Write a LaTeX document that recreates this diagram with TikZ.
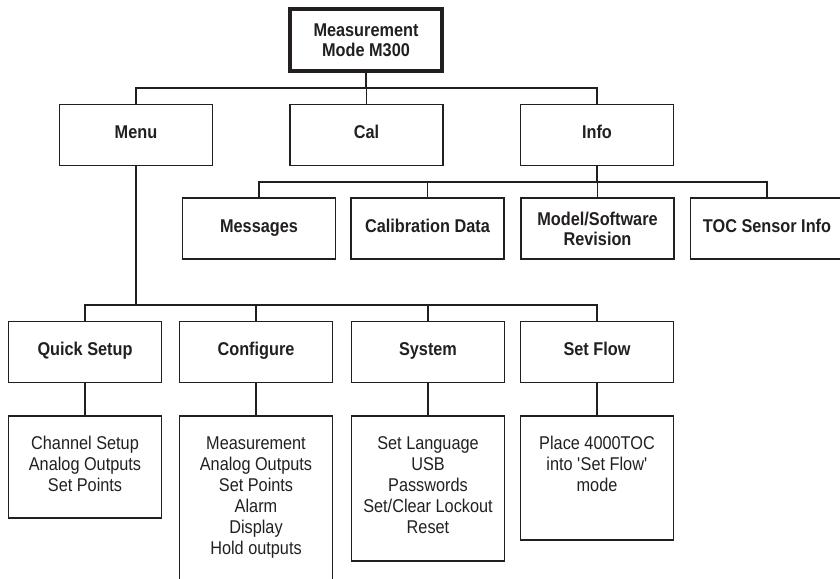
\documentclass[tikz,border=0pt]{standalone}
\usepackage{fontspec}
\setmainfont[FakeStretch=0.88]{Liberation Sans}
\definecolor{ink}{HTML}{231F20}
\begin{document}
\begin{tikzpicture}[x=1pt,y=-1pt,
  hbox/.style={draw=ink, line width=1.8pt, minimum width=153pt, minimum height=61pt,
    inner sep=0pt, font=\bfseries\fontsize{18.5}{20}\selectfont, text=ink, align=center},
  one/.style={text height=13.2pt, text depth=6pt},
  topbox/.style={hbox, line width=4pt, minimum width=152pt, minimum height=62pt},
  listbox/.style={draw=ink, line width=1.8pt, minimum width=153pt, inner sep=0pt, anchor=north},
  listtxt/.style={font=\fontsize{18.5}{21}\selectfont, align=center, anchor=north, inner sep=0pt, text=ink},
  conn/.style={draw=ink, line width=1.6pt}]
\useasboundingbox (0,0) rectangle (840,578);
\clip (0,0) rectangle (840,578);

% top
\node[topbox] (top) at (366,40) {Measurement\\Mode M300};

% row 1
\node[hbox,one] (menu) at (136,135) {Menu};
\node[hbox,one] (cal) at (366.5,135) {Cal};
\node[hbox,one] (info) at (597,135) {Info};

% row 2
\node[hbox,one] (msg) at (259,228.5) {Messages};
\node[hbox,one] (cdata) at (427.5,228.5) {Calibration Data};
\node[hbox] (model) at (597.5,228.5) {Model/Software\\Revision};
\node[hbox,one] (toc) at (767,228.5) {TOC Sensor Info};

% row 3
\node[hbox,one] (qs) at (85,352) {Quick Setup};
\node[hbox,one] (conf) at (256,352) {Configure};
\node[hbox,one] (sys) at (428,352) {System};
\node[hbox,one] (flow) at (597,352) {Set Flow};

% row 4 boxes
\node[listbox, minimum height=102pt] (qsL) at (85,415) {};
\node[listbox, minimum height=200pt] (confL) at (256,415) {};
\node[listbox, minimum height=145pt] (sysL) at (428,415) {};
\node[listbox, minimum height=124pt] (flowL) at (597,415) {};

% row 4 texts
\node[listtxt] (qsT) at ([yshift=-20pt]qsL.north) {\strut Channel Setup\\Analog Outputs\\Set Points};
\node[listtxt] (confT) at ([yshift=-20pt]confL.north) {\strut Measurement\\Analog Outputs\\Set Points\\Alarm\\Display\\Hold outputs};
\node[listtxt] (sysT) at ([yshift=-20pt]sysL.north) {\strut Set Language\\USB\\Passwords\\Set/Clear Lockout\\Reset};
\node[listtxt] (flowT) at ([yshift=-20pt]flowL.north) {\strut Place 4000TOC\\into \textquotesingle Set Flow\textquotesingle\\mode};

% connectors: top level
\coordinate (b1) at (366,88);
\draw[conn] (top.south) -- (b1);
\draw[conn] (menu.north) |- (b1);
\draw[conn] (info.north) |- (b1);
\draw[conn] (cal.north) -- (cal.north |- b1);

% info bus
\coordinate (b2) at (597,182);
\draw[conn] (info.south) -- (b2);
\draw[conn] (msg.north) |- (b2);
\draw[conn] (toc.north) |- (b2);
\draw[conn] (cdata.north) -- (cdata.north |- b2);
\draw[conn] (model.north) -- (model.north |- b2);

% menu bus
\coordinate (b3) at (136,305);
\draw[conn] (menu.south) -- (b3);
\draw[conn] (qs.north) |- (b3);
\draw[conn] (flow.north) |- (b3);
\draw[conn] (conf.north) -- (conf.north |- b3);
\draw[conn] (sys.north) -- (sys.north |- b3);

% row 3 to row 4
\draw[conn] (qs.south) -- (qsL.north);
\draw[conn] (conf.south) -- (confL.north);
\draw[conn] (sys.south) -- (sysL.north);
\draw[conn] (flow.south) -- (flowL.north);
\end{tikzpicture}
\end{document}
